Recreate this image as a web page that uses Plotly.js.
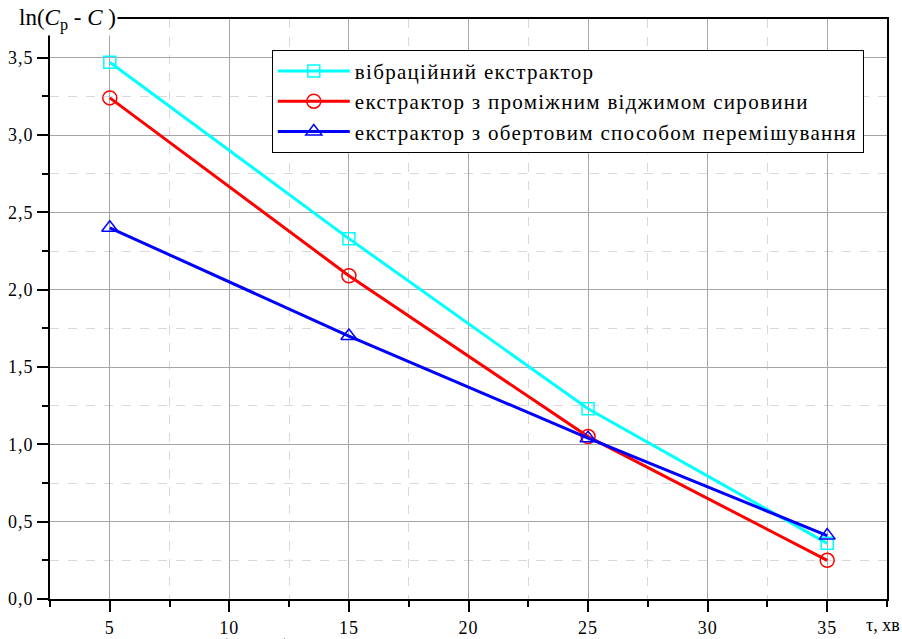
<!DOCTYPE html>
<html>
<head>
<meta charset="utf-8">
<script src="https://cdn.plot.ly/plotly-3.0.1.min.js"></script>
<style>
html,body{margin:0;padding:0;background:#fff;}
#chart{width:902px;height:639px;}
text.legendtext{letter-spacing:1.3px;}
.xtick text,.ytick text{letter-spacing:1px;}
</style>
</head>
<body>
<div id="chart"></div>
<script>
const tau = [5, 15, 25, 35];
const vibration = [3.47, 2.33, 1.23, 0.36];
const squeeze = [3.24, 2.09, 1.05, 0.25];
const rotary = [2.40, 1.70, 1.04, 0.41];
const names = [
  'вібраційний екстрактор',
  'екстрактор з проміжним віджимом сировини',
  'екстрактор з обертовим способом перемішування'
];
const xTicks = [5, 10, 15, 20, 25, 30, 35];
const yTicks = [0, 0.5, 1.0, 1.5, 2.0, 2.5, 3.0, 3.5];

const F = 'Liberation Serif';
const traces = [
  {x: tau, y: vibration, name: names[0], mode: 'lines+markers',
   line: {color: '#00ffff', width: 3},
   marker: {symbol: 'square-open', size: 12, color: '#00ffff', line: {width: 1.5}}},
  {x: tau, y: squeeze, name: names[1], mode: 'lines+markers',
   line: {color: '#ff0000', width: 3},
   marker: {symbol: 'circle-open', size: 14, color: '#ff0000', line: {width: 1.5}}},
  {x: tau, y: rotary, name: names[2], mode: 'lines+markers',
   line: {color: '#0000ff', width: 3},
   marker: {symbol: 'triangle-up-open', size: 14, color: '#0000ff', line: {width: 1.5}}}
];

const layout = {
  width: 902, height: 639,
  margin: {l: 50, r: 15, t: 19, b: 40},
  paper_bgcolor: '#fff', plot_bgcolor: '#fff',
  separators: ', ',
  font: {family: F, color: '#000', size: 16},
  showlegend: true,
  legend: {x: 0.265, y: 0.947, xanchor: 'left', yanchor: 'top',
    itemwidth: 72,
    bgcolor: '#fff', bordercolor: '#000', borderwidth: 1,
    font: {family: F, size: 21, color: '#000'}},
  xaxis: {range: [2.5, 37.5], tickvals: xTicks, ticktext: xTicks.map(String),
    showline: true, linecolor: '#000', linewidth: 2, mirror: true,
    ticks: 'outside', ticklen: 11, tickwidth: 2, tickcolor: '#000',
    ticklabelstandoff: 0,
    tickfont: {family: F, size: 18, color: '#000'},
    showgrid: true, gridcolor: '#a6a6a6', gridwidth: 1, zeroline: false,
    minor: {dtick: 2.5, tick0: 2.5, ticks: 'outside', ticklen: 6, tickwidth: 2, tickcolor: '#000',
      showgrid: true, gridcolor: '#d9d9d9', griddash: 'dash', gridwidth: 1}},
  yaxis: {range: [0, 3.75], tickvals: yTicks, tickformat: '.1f',
    showline: true, linecolor: '#000', linewidth: 2, mirror: true,
    ticks: 'outside', ticklen: 11, tickwidth: 2, tickcolor: '#000',
    tickfont: {family: F, size: 18, color: '#000'},
    showgrid: true, gridcolor: '#a6a6a6', gridwidth: 1, zeroline: false,
    minor: {dtick: 0.25, tick0: 0.25, ticks: 'outside', ticklen: 6, tickwidth: 2, tickcolor: '#000',
      showgrid: true, gridcolor: '#d9d9d9', griddash: 'dash', gridwidth: 1}},
  annotations: [
    {xref: 'paper', yref: 'paper', x: -0.04, y: 1.0, xanchor: 'left', yanchor: 'middle',
     text: 'ln(<i>C</i><sub>р</sub> - <i>C</i> )', showarrow: false, bgcolor: '#fff',
     font: {family: F, size: 23, color: '#000'}},
    {xref: 'paper', yref: 'paper', x: 1.018, y: -0.045, xanchor: 'right', yanchor: 'middle',
     text: 'τ, хв', showarrow: false, font: {family: F, size: 18, color: '#000'}},
    {xref: 'paper', yref: 'paper', x: -0.03, y: -0.055, xanchor: 'left', yanchor: 'top',
     text: 'Рис. 9. Залежність ln(<i>C</i><sub>р</sub> - <i>C</i>) від тривалості екстракції',
     showarrow: false, font: {family: F, size: 22, color: '#000'}}
  ]
};
Plotly.newPlot('chart', traces, layout, {displayModeBar: false, staticPlot: true});
</script>
</body>
</html>
